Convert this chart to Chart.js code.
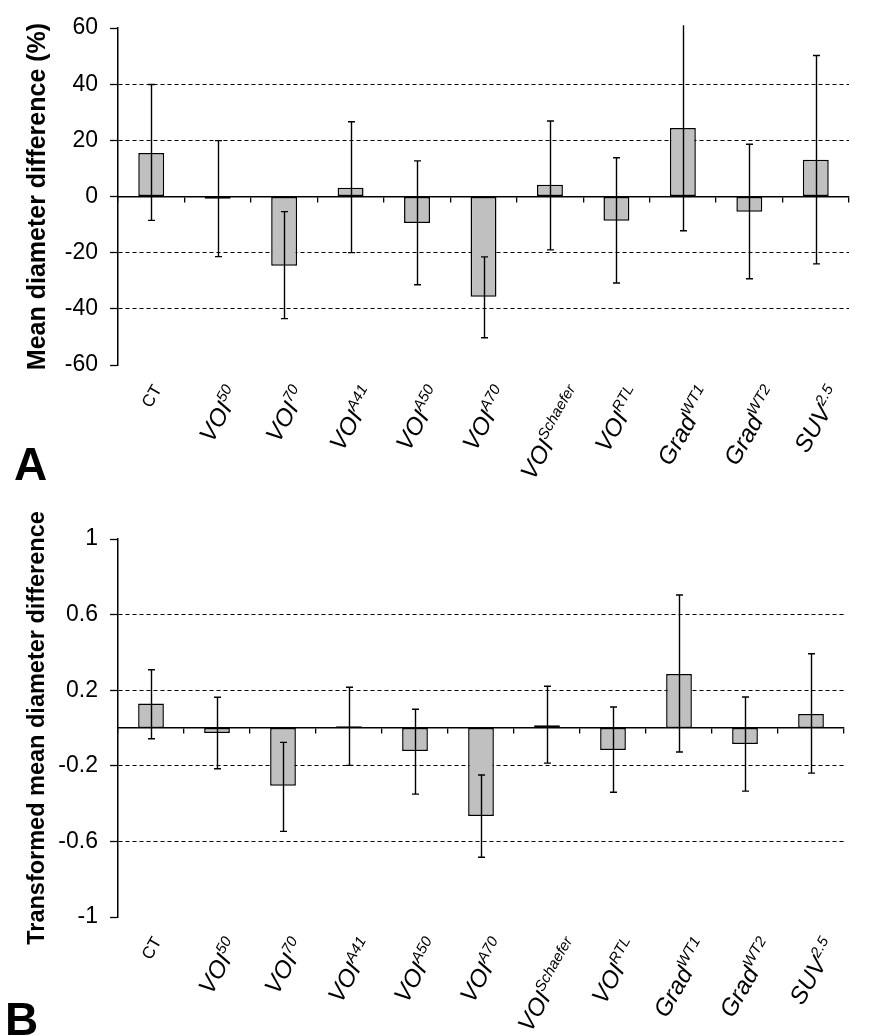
<!DOCTYPE html>
<html>
<head>
<meta charset="utf-8">
<script src="https://cdn.jsdelivr.net/npm/chart.js@4.4.1/dist/chart.umd.min.js"></script>
<style>
body { margin:0; background:#fff; width:892px; height:1036px; position:relative; overflow:hidden; font-family:"Liberation Sans", Arial, sans-serif; }
#boxA { position:absolute; left:0; top:0; width:892px; height:500px; }
#boxB { position:absolute; left:0; top:500px; width:892px; height:536px; }
.panel { position:absolute; font-weight:bold; font-size:46px; line-height:46px; color:#000; }
</style>
</head>
<body>
<div id="boxA"><canvas id="chartA" width="892" height="500"></canvas></div>
<div id="boxB"><canvas id="chartB" width="892" height="536"></canvas></div>
<div class="panel" style="left:14px;top:441px">A</div>
<div class="panel" style="left:5px;top:996px">B</div>
<script>
// categories: base text + superscript part
const labelBase = ['CT', 'VOI', 'VOI', 'VOI', 'VOI', 'VOI', 'VOI', 'VOI', 'Grad', 'Grad', 'SUV'];
const labelSup = ['', '50', '70', 'A41', 'A50', 'A70', 'Schaefer', 'RTL', 'WT1', 'WT2', '2.5'];
const categories = labelBase.map((b, i) => b + labelSup[i]);

// panel A - mean diameter difference (%)
const meanA = [15.5, -0.8, -24.7, 3.1, -9.4, -35.7, 4.2, -8.6, 24.4, -5.4, 13.1];
const lowA = [-8.5, -21.4, -43.5, -20, -31.4, -50.3, -19, -30.8, -12.2, -29.3, -24];
const highA = [39.9, 19.9, -5.4, 26.6, 12.7, -21.5, 26.9, 13.8, 61, 18.6, 50.2];
const titleA = 'Mean diameter difference (%)';

// panel B - transformed mean diameter difference
const meanB = [0.129, -0.027, -0.306, 0.009, -0.122, -0.465, 0.014, -0.117, 0.286, -0.085, 0.074];
const lowB = [-0.057, -0.216, -0.547, -0.198, -0.35, -0.684, -0.186, -0.34, -0.127, -0.334, -0.239];
const highB = [0.308, 0.163, -0.076, 0.216, 0.099, -0.249, 0.221, 0.111, 0.704, 0.164, 0.393];
const titleB = 'Transformed mean diameter difference';

const family = '"Liberation Sans", Arial, sans-serif';

const errorBars = {
    id: 'errorBars',
    afterDatasetsDraw(chart) {
        const ctx = chart.ctx;
        const y = chart.scales.y;
        const ds = chart.data.datasets[0];
        const meta = chart.getDatasetMeta(0);
        ctx.save();
        ctx.strokeStyle = '#000';
        ctx.lineWidth = 1.4;
        meta.data.forEach(function (bar, i) {
            const x = Math.round(bar.x) + 0.5;
            const yl = y.getPixelForValue(ds.errLow[i]);
            const yh = y.getPixelForValue(ds.errHigh[i]);
            ctx.beginPath();
            ctx.moveTo(x, yl);
            ctx.lineTo(x, yh);
            ctx.moveTo(x - 3.5, yl);
            ctx.lineTo(x + 3.5, yl);
            if (ds.errHigh[i] <= y.max) {
                ctx.moveTo(x - 3.5, yh);
                ctx.lineTo(x + 3.5, yh);
            }
            ctx.stroke();
        });
        ctx.restore();
    }
};

function textPlugin(title, titleSize) {
    return {
        id: 'panelText',
        afterDraw(chart) {
            const ctx = chart.ctx;
            const area = chart.chartArea;
            const xs = chart.scales.x;
            ctx.save();
            ctx.fillStyle = '#000';
            // y axis title
            ctx.save();
            ctx.translate(38, (area.top + area.bottom) / 2);
            ctx.rotate(-Math.PI / 2);
            ctx.font = 'bold ' + titleSize + 'px ' + family;
            ctx.textAlign = 'center';
            ctx.textBaseline = 'middle';
            ctx.fillText(title, 0, 0);
            ctx.restore();
            // rotated category labels with superscripts
            const c = Math.cos(Math.PI / 3), s = Math.sin(Math.PI / 3);
            labelBase.forEach(function (b, i) {
                const sup = labelSup[i];
                const bigSize = sup ? 24 : 17;
                const bigFont = (sup ? 'italic ' : '') + bigSize + 'px ' + family;
                const supFont = 'italic 15px ' + family;
                const raise = 10;
                ctx.font = bigFont;
                const wb = ctx.measureText(b).width;
                ctx.font = supFont;
                const ws = sup ? ctx.measureText(sup).width : 0;
                const W = wb + ws;
                const H = sup ? Math.max(bigSize * 0.72, raise + 15 * 0.72) : bigSize * 0.72;
                const cx = xs.getPixelForValue(i);
                const ax = cx + (c * W + s * H) / 2;
                const ay = area.bottom + 18 + c * H;
                ctx.save();
                ctx.translate(ax, ay);
                ctx.rotate(-Math.PI / 3);
                ctx.textAlign = 'left';
                ctx.textBaseline = 'alphabetic';
                ctx.font = bigFont;
                ctx.fillText(b, -W, 0);
                if (sup) {
                    ctx.font = supFont;
                    ctx.fillText(sup, -ws, -raise);
                }
                ctx.restore();
            });
            ctx.restore();
        }
    };
}

function makeChart(id, means, lows, highs, yMin, yMax, step, tickSize, title, titleSize, pad) {
    return new Chart(document.getElementById(id), {
        type: 'bar',
        data: {
            labels: categories,
            datasets: [{
                data: means,
                errLow: lows,
                errHigh: highs,
                backgroundColor: '#c0c0c0',
                borderColor: '#000',
                borderWidth: 1.5,
                borderSkipped: false,
                barPercentage: 0.39,
                categoryPercentage: 1
            }]
        },
        options: {
            responsive: false,
            animation: false,
            layout: { padding: pad },
            plugins: { legend: { display: false }, tooltip: { enabled: false } },
            scales: {
                x: {
                    position: { y: 0 },
                    offset: true,
                    z: 1,
                    border: { color: '#000', width: 1.5 },
                    grid: { offset: true, drawOnChartArea: false, drawTicks: true, tickLength: 5, color: '#000', lineWidth: 1.3 },
                    ticks: { display: false }
                },
                y: {
                    min: yMin,
                    max: yMax,
                    afterFit: function (scale) { scale.width = 118; },
                    border: { color: '#000', width: 1.5, dash: [4, 3] },
                    grid: {
                        color: function (ctx) {
                            const v = ctx.tick ? ctx.tick.value : 0;
                            return (Math.abs(v) < 1e-9 || Math.abs(Math.abs(v) - yMax) < 1e-9) ? 'rgba(0,0,0,0)' : '#000';
                        },
                        lineWidth: 1,
                        tickColor: '#000',
                        tickLength: 8,
                        tickWidth: 1.3
                    },
                    ticks: {
                        stepSize: step,
                        padding: 12,
                        color: '#000',
                        font: { family: family, size: tickSize },
                        callback: function (v) { return String(Math.round(v * 10) / 10); }
                    }
                }
            }
        },
        plugins: [errorBars, textPlugin(title, titleSize)]
    });
}

makeChart('chartA', meanA, lowA, highA, -60, 60, 20, 23, titleA, 25, { top: 28, right: 43, bottom: 135, left: 0 });
makeChart('chartB', meanB, lowB, highB, -1, 1, 0.4, 23, titleB, 23.5, { top: 39, right: 48, bottom: 119, left: 0 });
</script>
</body>
</html>
